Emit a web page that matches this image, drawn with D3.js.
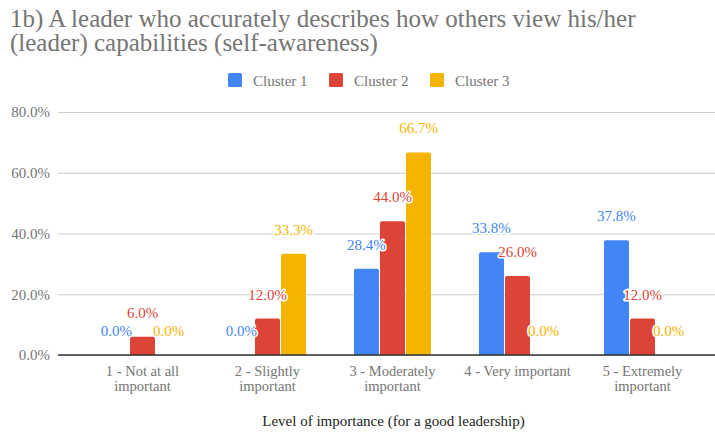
<!DOCTYPE html>
<html>
<head>
<meta charset="utf-8">
<script src="https://cdn.jsdelivr.net/npm/d3@7"></script>
<style>
  html, body { margin: 0; padding: 0; background: #fff; }
  svg { display: block; }
  svg text { font-family: "Liberation Serif", Tinos, "Times New Roman", Times, "DejaVu Serif", serif; }
</style>
</head>
<body>
<svg id="chart" width="715" height="434"></svg>
<script>
// Level-of-importance categories (x axis), each split over two lines
const categories = [
  ["1 - Not at all", "important"],
  ["2 - Slightly", "important"],
  ["3 - Moderately", "important"],
  ["4 - Very important"],
  ["5 - Extremely", "important"]
];
const seriesNames = ["Cluster 1", "Cluster 2", "Cluster 3"];
const seriesColors = ["#4285F4", "#DB4437", "#F4B400"];
// Percent of respondents per cluster
const cluster1 = [0.0, 0.0, 28.4, 33.8, 37.8];
const cluster2 = [6.0, 12.0, 44.0, 26.0, 12.0];
const cluster3 = [0.0, 33.3, 66.7, 0.0, 0.0];
const yTicks = [0, 20, 40, 60, 80];

const titleLines = [
  "1b) A leader who accurately describes how others view his/her",
  "(leader) capabilities (self-awareness)"
];
const xTitle = "Level of importance (for a good leadership)";

const seriesValues = [cluster1, cluster2, cluster3];
const svg = d3.select("#chart");
const grey = "#757575";

// Title
const title = svg.append("text")
  .attr("fill", grey)
  .attr("font-size", 25);
titleLines.forEach((t, i) => {
  title.append("tspan").attr("x", 10).attr("y", 27 + i * 24).text(t);
});

// Legend
const legend = svg.append("g");
const legendX = [228, 329, 430];
seriesNames.forEach((name, i) => {
  const g = legend.append("g").attr("transform", `translate(${legendX[i]},73)`);
  g.append("rect").attr("width", 14).attr("height", 14).attr("rx", 1.5)
    .attr("fill", seriesColors[i]);
  g.append("text").attr("x", 25).attr("y", 12.5)
    .attr("fill", grey).attr("font-size", 15).text(name);
});

// Scales
const y = d3.scaleLinear().domain([0, 80]).range([355, 112]);
const x = d3.scaleBand().domain(d3.range(categories.length)).range([80, 705]);
const xs = d3.scaleBand().domain(d3.range(seriesNames.length))
  .range([-38.5, 38.5]).paddingInner(0.04);

// Gridlines and y tick labels
const yAxis = d3.axisLeft(y)
  .tickValues(yTicks)
  .tickSize(-(715 - 58))
  .tickPadding(8)
  .tickFormat(d => d3.format(".1f")(d) + "%");
const yg = svg.append("g").attr("transform", "translate(58,0)").call(yAxis)
  .attr("font-family", null);
yg.select(".domain").remove();
yg.selectAll(".tick line").attr("stroke", "#cccccc").attr("stroke-width", 1);
yg.selectAll(".tick text")
  .attr("fill", grey).attr("font-size", 15)
  .attr("x", -8).attr("dy", "0.32em");

// Bars
const bars = svg.append("g");
seriesValues.forEach((vals, s) => {
  bars.selectAll(null)
    .data(vals.map((v, i) => ({ v, i })))
    .enter()
    .filter(d => d.v > 0)
    .append("path")
    .attr("fill", seriesColors[s])
    .attr("d", d => {
      const x0 = x(d.i) + x.bandwidth() / 2 + xs(s);
      const w = xs.bandwidth();
      const top = y(d.v), bot = y(0), r = 2;
      return `M${x0},${bot}V${top + r}Q${x0},${top} ${x0 + r},${top}` +
        `H${x0 + w - r}Q${x0 + w},${top} ${x0 + w},${top + r}V${bot}Z`;
    });
});

// Baseline
svg.append("line")
  .attr("x1", 58).attr("x2", 715)
  .attr("y1", y(0)).attr("y2", y(0))
  .attr("stroke", "#333333").attr("stroke-width", 1.5);

// Value labels with white halo
const labels = svg.append("g");
seriesValues.forEach((vals, s) => {
  labels.selectAll(null)
    .data(vals.map((v, i) => ({ v, i })))
    .enter()
    .append("text")
    .attr("x", d => x(d.i) + x.bandwidth() / 2 + xs(s) + xs.bandwidth() / 2)
    .attr("y", d => y(d.v) - 19)
    .attr("text-anchor", "middle")
    .attr("font-size", 15)
    .attr("fill", seriesColors[s])
    .attr("stroke", "#ffffff")
    .attr("stroke-width", 3)
    .attr("stroke-linejoin", "round")
    .attr("paint-order", "stroke")
    .text(d => d3.format(".1f")(d.v) + "%");
});

// Category labels
const xl = svg.append("g");
categories.forEach((lines, i) => {
  const t = xl.append("text")
    .attr("text-anchor", "middle")
    .attr("fill", grey)
    .attr("font-size", 14.5);
  lines.forEach((ln, j) => {
    t.append("tspan")
      .attr("x", x(i) + x.bandwidth() / 2)
      .attr("y", 376 + j * 15)
      .text(ln);
  });
});

// Axis title
svg.append("text")
  .attr("x", 393.5).attr("y", 426)
  .attr("text-anchor", "middle")
  .attr("fill", "#222222")
  .attr("font-size", 15)
  .text(xTitle);
</script>
</body>
</html>
